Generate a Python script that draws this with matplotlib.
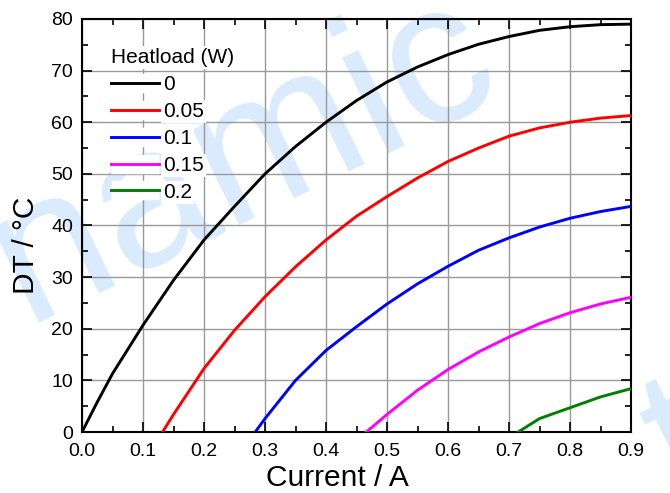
import matplotlib
matplotlib.use('Agg')
import matplotlib.pyplot as plt
import matplotlib.patheffects as pe
from matplotlib.ticker import MultipleLocator

plt.rcParams['font.family'] = ['Liberation Sans', 'DejaVu Sans']

# 데이터
heatloads = ['0', '0.05', '0.1', '0.15', '0.2']
colors = ['black', 'red', 'blue', 'magenta', 'green']

i_q0 = [0.0, 0.025, 0.05, 0.1, 0.15, 0.2, 0.25, 0.3, 0.35, 0.4, 0.45, 0.5, 0.55, 0.6, 0.65, 0.7, 0.75, 0.8, 0.85, 0.9]
dt_q0 = [0.0, 5.8, 11.3, 20.7, 29.4, 37.2, 43.7, 50.0, 55.3, 60.0, 64.2, 67.8, 70.7, 73.1, 75.1, 76.6, 77.8, 78.5, 78.9, 79.0]

i_q05 = [0.132, 0.15, 0.2, 0.25, 0.3, 0.35, 0.4, 0.45, 0.5, 0.55, 0.6, 0.65, 0.7, 0.75, 0.8, 0.85, 0.9]
dt_q05 = [0.0, 3.4, 12.3, 19.7, 26.2, 32.0, 37.2, 41.8, 45.6, 49.2, 52.4, 55.0, 57.3, 58.9, 60.0, 60.8, 61.3]

i_q10 = [0.284, 0.3, 0.35, 0.4, 0.45, 0.5, 0.55, 0.6, 0.65, 0.7, 0.75, 0.8, 0.85, 0.9]
dt_q10 = [0.0, 2.6, 10.0, 15.8, 20.4, 24.8, 28.7, 32.1, 35.2, 37.6, 39.7, 41.4, 42.7, 43.7]

i_q15 = [0.466, 0.5, 0.55, 0.6, 0.65, 0.7, 0.75, 0.8, 0.85, 0.9]
dt_q15 = [0.0, 3.4, 8.1, 12.1, 15.5, 18.4, 21.0, 23.1, 24.8, 26.1]

i_q20 = [0.715, 0.75, 0.8, 0.85, 0.9]
dt_q20 = [0.0, 2.6, 4.7, 6.8, 8.4]

currents = [i_q0, i_q05, i_q10, i_q15, i_q20]
deltas = [dt_q0, dt_q05, dt_q10, dt_q15, dt_q20]

fig = plt.figure(figsize=(6.7, 4.93), dpi=100)

# 워터마크
wm = '#d9ebfc'
fig.text(0.232, 0.477, 'Dynamic', fontsize=144, color=wm, rotation=26,
         rotation_mode='anchor', ha='center', va='baseline', zorder=-5)
fig.text(1.02, -0.030, 'tech', fontsize=144, color=wm, rotation=26,
         rotation_mode='anchor', ha='left', va='baseline', zorder=-5)

ax = fig.add_axes([0.1224, 0.1237, 0.8194, 0.8378])
ax.patch.set_alpha(0)

for x, y, c, lab in zip(currents, deltas, colors, heatloads):
    ax.plot(x, y, color=c, lw=2.1, label=lab, zorder=3, solid_joinstyle='round')

ax.set_xlim(0, 0.9)
ax.set_ylim(0, 80)
ax.xaxis.set_major_locator(MultipleLocator(0.1))
ax.xaxis.set_minor_locator(MultipleLocator(0.05))
ax.yaxis.set_major_locator(MultipleLocator(10))
ax.yaxis.set_minor_locator(MultipleLocator(5))
ax.xaxis.set_major_formatter(matplotlib.ticker.FormatStrFormatter('%.1f'))
ax.tick_params(which='both', direction='in', top=True, right=True, labelsize=14)
ax.tick_params(which='major', length=7, width=1.2)
ax.tick_params(which='minor', length=4, width=1.2)
ax.tick_params(axis='x', pad=8)
ax.tick_params(axis='y', pad=6.5)
ax.grid(True, which='major', color='#999999', lw=1)
for s in ax.spines.values():
    s.set_linewidth(1.5)

ax.set_xlabel('Current / A', fontsize=21.5, labelpad=3, x=0.466)
ax.set_ylabel('DT / °C', fontsize=21.5, labelpad=8, y=0.453)

leg = ax.legend(title='Heatload (W)', loc='upper left', fontsize=15, title_fontsize=15,
                frameon=False, handlelength=2.3, handletextpad=0.2, labelspacing=0.38,
                borderaxespad=1.0)
leg._legend_box.align = 'left'
# 범례 글자 뒤만 흰 배경
for t in leg.get_texts() + [leg.get_title()]:
    t.set_bbox(dict(facecolor='white', edgecolor='none', pad=1.5))
for h in leg.get_lines():
    h.set_path_effects([pe.Stroke(linewidth=14, foreground='white', capstyle='butt'), pe.Normal()])

plt.savefig('out.png', dpi=100)
